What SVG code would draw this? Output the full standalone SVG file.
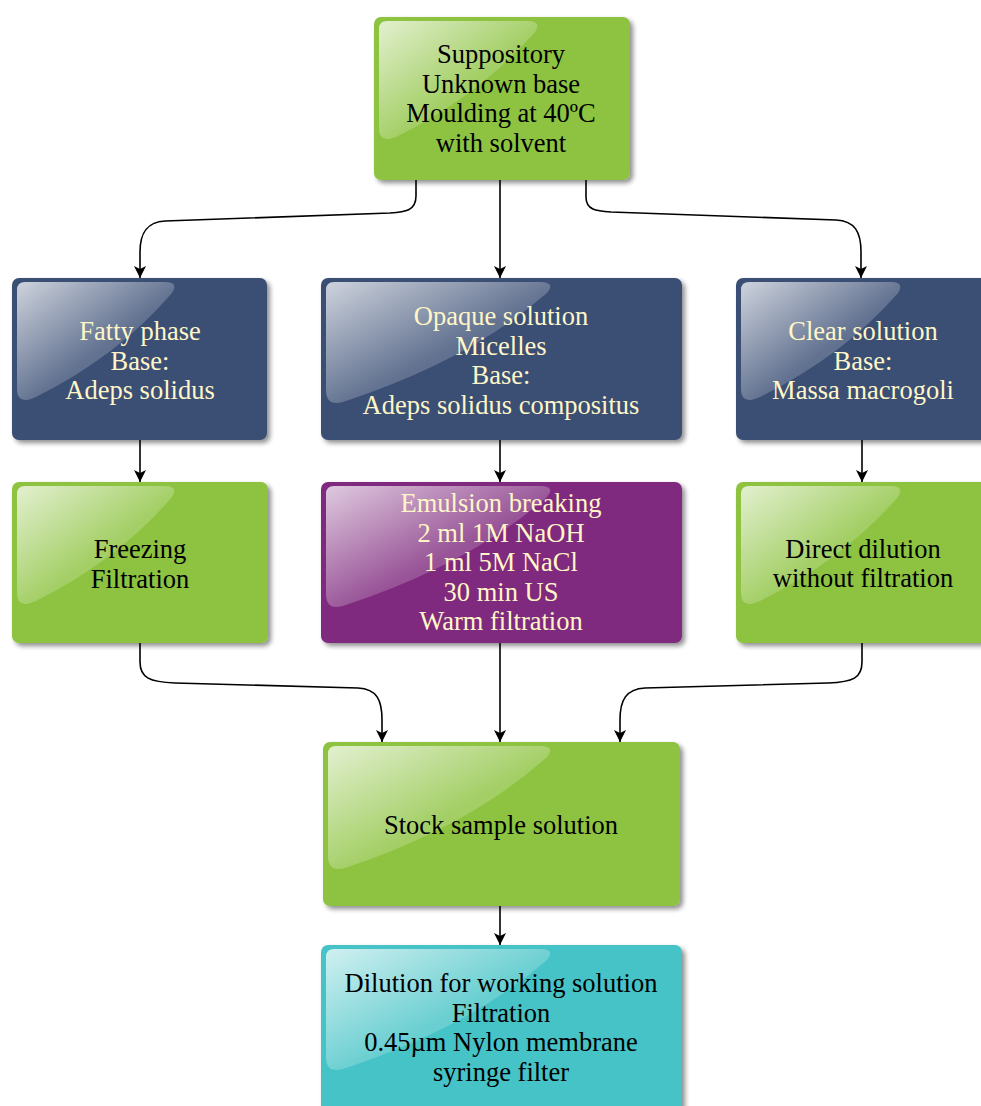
<svg xmlns="http://www.w3.org/2000/svg" width="981" height="1106" viewBox="0 0 981 1106">
<defs>
<style>
.t{font-family:"Liberation Serif","Times New Roman",serif;font-size:26.5px;text-anchor:middle}
.dk{fill:#000}
.lt{fill:#FFF6C8}
.green{fill:#8DC33F}
.blue{fill:#3A4F74}
.purple{fill:#7F2A7E}
.cyan{fill:#45C3C6}
.hl{fill:url(#gloss)}
.c{fill:none;stroke:#000;stroke-width:1.6;marker-end:url(#ah)}
</style>
<linearGradient id="gloss" x1="0" y1="0" x2="1" y2="1">
<stop offset="0" stop-color="#fff" stop-opacity="0.75"/>
<stop offset="0.55" stop-color="#fff" stop-opacity="0.2"/>
<stop offset="1" stop-color="#fff" stop-opacity="0.1"/>
</linearGradient>
<filter id="sh" x="-10%" y="-10%" width="125%" height="125%">
<feGaussianBlur in="SourceAlpha" stdDeviation="2.5"/>
<feOffset dx="3" dy="3" result="b"/>
<feComponentTransfer><feFuncA type="linear" slope="0.45"/></feComponentTransfer>
<feMerge><feMergeNode/><feMergeNode in="SourceGraphic"/></feMerge>
</filter>
<marker id="ah" viewBox="0 0 12 12" refX="12" refY="6" markerWidth="12" markerHeight="13" markerUnits="userSpaceOnUse" orient="auto">
<path d="M0,0 L12,6 L0,12 L3,6 z" fill="#000"/>
</marker>
</defs>
<rect width="981" height="1106" fill="#fff"/>

<g id="connectors">
<path class="c" d="M416,180 L416,196 C416,211 405,212 390,213 L165,221 C146,222 140,234 140,252 L140,278"/>
<path class="c" d="M500,180 L500,278"/>
<path class="c" d="M586,180 L586,197 C586,210 596,211 611,212 L836,220 C855,221 861,232 861,252 L861,278"/>
<path class="c" d="M140,440 L140,482"/>
<path class="c" d="M500,440 L500,482"/>
<path class="c" d="M862,440 L862,482"/>
<path class="c" d="M140,643 L140,662 C140,678 150,682 175,683 L358,688 C377,689 382,700 382,720 L382,742"/>
<path class="c" d="M500,643 L500,742"/>
<path class="c" d="M862,643 L862,662 C862,678 853,682 828,683 L645,688 C626,689 620,700 620,720 L620,742"/>
<path class="c" d="M500,906 L500,945"/>
</g>

<g id="n1">
<rect class="green" x="374" y="17" width="256" height="163" rx="7" filter="url(#sh)"/>
<path class="hl" d="M379,29 Q379,21 387,21 L528,21 Q542,21 535,32 Q480,95 398,136 Q379,145 379,128 Z"/>
<text class="t dk" x="501" y="63">Suppository</text>
<text class="t dk" x="501" y="92.5">Unknown base</text>
<text class="t dk" x="501" y="122">Moulding at 40ºC</text>
<text class="t dk" x="501" y="151.5">with solvent</text>
</g>

<g id="n2">
<rect class="blue" x="12" y="278" width="255" height="162" rx="7" filter="url(#sh)"/>
<path class="hl" d="M17,290 Q17,282 25,282 L165,282 Q179,282 172,293 Q118,356 36,397 Q17,406 17,389 Z"/>
<text class="t lt" x="140" y="340">Fatty phase</text>
<text class="t lt" x="140" y="369.5">Base:</text>
<text class="t lt" x="140" y="399">Adeps solidus</text>
</g>

<g id="n3">
<rect class="blue" x="321" y="278" width="361" height="162" rx="7" filter="url(#sh)"/>
<path class="hl" d="M326,290 Q326,282 334,282 L540,282 Q556,282 547,293 Q470,360 346,401 Q326,408 326,390 Z"/>
<text class="t lt" x="501" y="325">Opaque solution</text>
<text class="t lt" x="501" y="354.5">Micelles</text>
<text class="t lt" x="501" y="384">Base:</text>
<text class="t lt" x="501" y="413.5">Adeps solidus compositus</text>
</g>

<g id="n4">
<rect class="blue" x="736" y="278" width="260" height="162" rx="7" filter="url(#sh)"/>
<path class="hl" d="M741,290 Q741,282 749,282 L891,282 Q905,282 898,293 Q843,356 760,397 Q741,406 741,389 Z"/>
<text class="t lt" x="863" y="340">Clear solution</text>
<text class="t lt" x="863" y="369.5">Base:</text>
<text class="t lt" x="863" y="399">Massa macrogoli</text>
</g>

<g id="n5">
<rect class="green" x="12" y="482" width="256" height="161" rx="7" filter="url(#sh)"/>
<path class="hl" d="M17,494 Q17,486 25,486 L165,486 Q179,486 172,497 Q118,560 36,601 Q17,610 17,593 Z"/>
<text class="t dk" x="140" y="558">Freezing</text>
<text class="t dk" x="140" y="587.5">Filtration</text>
</g>

<g id="n6">
<rect class="purple" x="321" y="482" width="361" height="161" rx="7" filter="url(#sh)"/>
<path class="hl" d="M326,494 Q326,486 334,486 L540,486 Q556,486 547,497 Q470,564 346,605 Q326,612 326,594 Z"/>
<text class="t lt" x="501" y="512">Emulsion breaking</text>
<text class="t lt" x="501" y="541.5">2 ml 1M NaOH</text>
<text class="t lt" x="501" y="571">1 ml 5M NaCl</text>
<text class="t lt" x="501" y="600.5">30 min US</text>
<text class="t lt" x="501" y="630">Warm filtration</text>
</g>

<g id="n7">
<rect class="green" x="736" y="482" width="260" height="161" rx="7" filter="url(#sh)"/>
<path class="hl" d="M741,494 Q741,486 749,486 L891,486 Q905,486 898,497 Q843,560 760,601 Q741,610 741,593 Z"/>
<text class="t dk" x="863" y="557.5">Direct dilution</text>
<text class="t dk" x="863" y="587">without filtration</text>
</g>

<g id="n8">
<rect class="green" x="323" y="742" width="357" height="164" rx="7" filter="url(#sh)"/>
<path class="hl" d="M328,754 Q328,746 336,746 L540,746 Q556,746 547,757 Q470,826 348,867 Q328,874 328,856 Z"/>
<text class="t dk" x="501" y="834">Stock sample solution</text>
</g>

<g id="n9">
<rect class="cyan" x="321" y="945" width="361" height="180" rx="7" filter="url(#sh)"/>
<path class="hl" d="M326,957 Q326,949 334,949 L540,949 Q556,949 547,960 Q470,1027 346,1068 Q326,1075 326,1057 Z"/>
<text class="t dk" x="501" y="992">Dilution for working solution</text>
<text class="t dk" x="501" y="1021.5">Filtration</text>
<text class="t dk" x="501" y="1051">0.45µm Nylon membrane</text>
<text class="t dk" x="501" y="1080.5">syringe filter</text>
</g>
</svg>
